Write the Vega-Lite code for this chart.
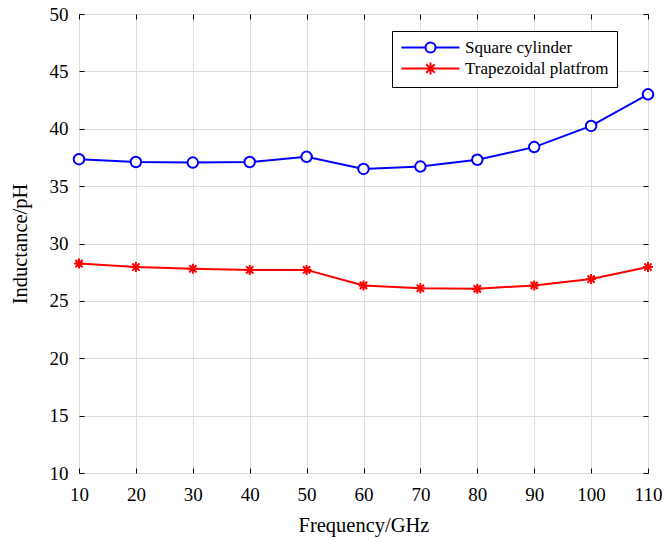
{
  "$schema": "https://vega.github.io/schema/vega-lite/v6.json",
  "width": 569,
  "height": 459,
  "autosize": {"type": "none"},
  "padding": {"left": 79, "top": 14, "right": 17, "bottom": 66},
  "background": "white",
  "config": {
    "view": {"stroke": "black", "strokeWidth": 1},
    "font": "Liberation Serif",
    "axis": {
      "labelFont": "Liberation Serif",
      "titleFont": "Liberation Serif",
      "labelFontSize": 19,
      "titleFontSize": 20.5,
      "titleFontWeight": "normal",
      "labelColor": "black",
      "titleColor": "black",
      "domainColor": "black",
      "tickColor": "black",
      "gridColor": "#dedede",
      "gridWidth": 1,
      "labelFlush": false
    },
    "legend": {
      "title": null,
      "orient": "none",
      "legendX": 313,
      "legendY": 17,
      "fillColor": "white",
      "strokeColor": "black",
      "padding": 8,
      "labelFont": "Liberation Serif",
      "labelFontSize": 17,
      "labelColor": "black",
      "labelOffset": 26,
      "labelExpr": "datum.label + '      '",
      "symbolSize": 100,
      "symbolOffset": 22,
      "symbolStrokeWidth": 2,
      "symbolFillColor": "white",
      "symbolOpacity": 1,
      "rowPadding": 1
    }
  },
  "data": {
    "values": [
      {"freq": 10, "L": 37.35, "series": "Square cylinder"},
      {"freq": 20, "L": 37.1, "series": "Square cylinder"},
      {"freq": 30, "L": 37.05, "series": "Square cylinder"},
      {"freq": 40, "L": 37.1, "series": "Square cylinder"},
      {"freq": 50, "L": 37.55, "series": "Square cylinder"},
      {"freq": 60, "L": 36.5, "series": "Square cylinder"},
      {"freq": 70, "L": 36.7, "series": "Square cylinder"},
      {"freq": 80, "L": 37.3, "series": "Square cylinder"},
      {"freq": 90, "L": 38.4, "series": "Square cylinder"},
      {"freq": 100, "L": 40.25, "series": "Square cylinder"},
      {"freq": 110, "L": 43.0, "series": "Square cylinder"},
      {"freq": 10, "L": 28.25, "series": "Trapezoidal platfrom"},
      {"freq": 20, "L": 27.95, "series": "Trapezoidal platfrom"},
      {"freq": 30, "L": 27.8, "series": "Trapezoidal platfrom"},
      {"freq": 40, "L": 27.7, "series": "Trapezoidal platfrom"},
      {"freq": 50, "L": 27.7, "series": "Trapezoidal platfrom"},
      {"freq": 60, "L": 26.35, "series": "Trapezoidal platfrom"},
      {"freq": 70, "L": 26.1, "series": "Trapezoidal platfrom"},
      {"freq": 80, "L": 26.05, "series": "Trapezoidal platfrom"},
      {"freq": 90, "L": 26.35, "series": "Trapezoidal platfrom"},
      {"freq": 100, "L": 26.9, "series": "Trapezoidal platfrom"},
      {"freq": 110, "L": 27.95, "series": "Trapezoidal platfrom"}
    ]
  },
  "resolve": {"axis": {"x": "independent", "y": "independent"}},
  "layer": [
    {
      "mark": {"type": "line", "strokeWidth": 2},
      "encoding": {
        "x": {
          "field": "freq", "type": "quantitative",
          "scale": {"domain": [10, 110], "nice": false, "zero": false},
          "axis": {"title": "Frequency/GHz", "values": [10, 20, 30, 40, 50, 60, 70, 80, 90, 100, 110], "tickSize": -5, "labelPadding": 17, "titlePadding": 11, "domain": false}
        },
        "y": {
          "field": "L", "type": "quantitative",
          "scale": {"domain": [10, 50], "nice": false, "zero": false},
          "axis": {"title": "Inductance/pH", "values": [10, 15, 20, 25, 30, 35, 40, 45, 50], "tickSize": -5, "labelPadding": 16, "titlePadding": 19, "domain": false}
        },
        "color": {
          "field": "series", "type": "nominal",
          "scale": {"domain": ["Square cylinder", "Trapezoidal platfrom"], "range": ["#0000ff", "#ff0000"]}
        }
      }
    },
    {
      "mark": {"type": "point", "filled": false, "fill": "white", "opacity": 1, "strokeWidth": 2, "size": 0.0001},
      "encoding": {
        "x": {"field": "freq", "type": "quantitative", "axis": {"orient": "top", "labels": false, "title": null, "grid": false, "values": [10, 20, 30, 40, 50, 60, 70, 80, 90, 100, 110], "tickSize": -5, "domain": false}},
        "y": {"field": "L", "type": "quantitative", "axis": {"orient": "right", "labels": false, "title": null, "grid": false, "values": [10, 15, 20, 25, 30, 35, 40, 45, 50], "tickSize": -5, "domain": false}},
        "color": {"field": "series", "type": "nominal"},
        "shape": {
          "field": "series", "type": "nominal",
          "scale": {"domain": ["Square cylinder", "Trapezoidal platfrom"], "range": ["M-5.8,0H-1M1,0H5.8M1,0A1,1,0,1,1,-1,0A1,1,0,1,1,1,0", "M-5.8,0H5.8M0,-1.2V1.2M-0.85,-0.85L0.85,0.85M-0.85,0.85L0.85,-0.85"]}
        }
      }
    },
    {
      "transform": [{"filter": "datum.series === 'Square cylinder'"}],
      "mark": {"type": "point", "shape": "circle", "filled": false, "fill": "white", "fillOpacity": 1, "opacity": 1, "stroke": "#0000ff", "strokeWidth": 2, "size": 110},
      "encoding": {
        "x": {"field": "freq", "type": "quantitative", "axis": null},
        "y": {"field": "L", "type": "quantitative", "axis": null}
      }
    },
    {
      "transform": [{"filter": "datum.series === 'Trapezoidal platfrom'"}],
      "mark": {"type": "point", "shape": "M-1,0H1M0,-1V1M-0.72,-0.72L0.72,0.72M-0.72,0.72L0.72,-0.72", "filled": false, "opacity": 1, "stroke": "#ff0000", "strokeWidth": 2, "size": 100},
      "encoding": {
        "x": {"field": "freq", "type": "quantitative", "axis": null},
        "y": {"field": "L", "type": "quantitative", "axis": null}
      }
    }
  ]
}
